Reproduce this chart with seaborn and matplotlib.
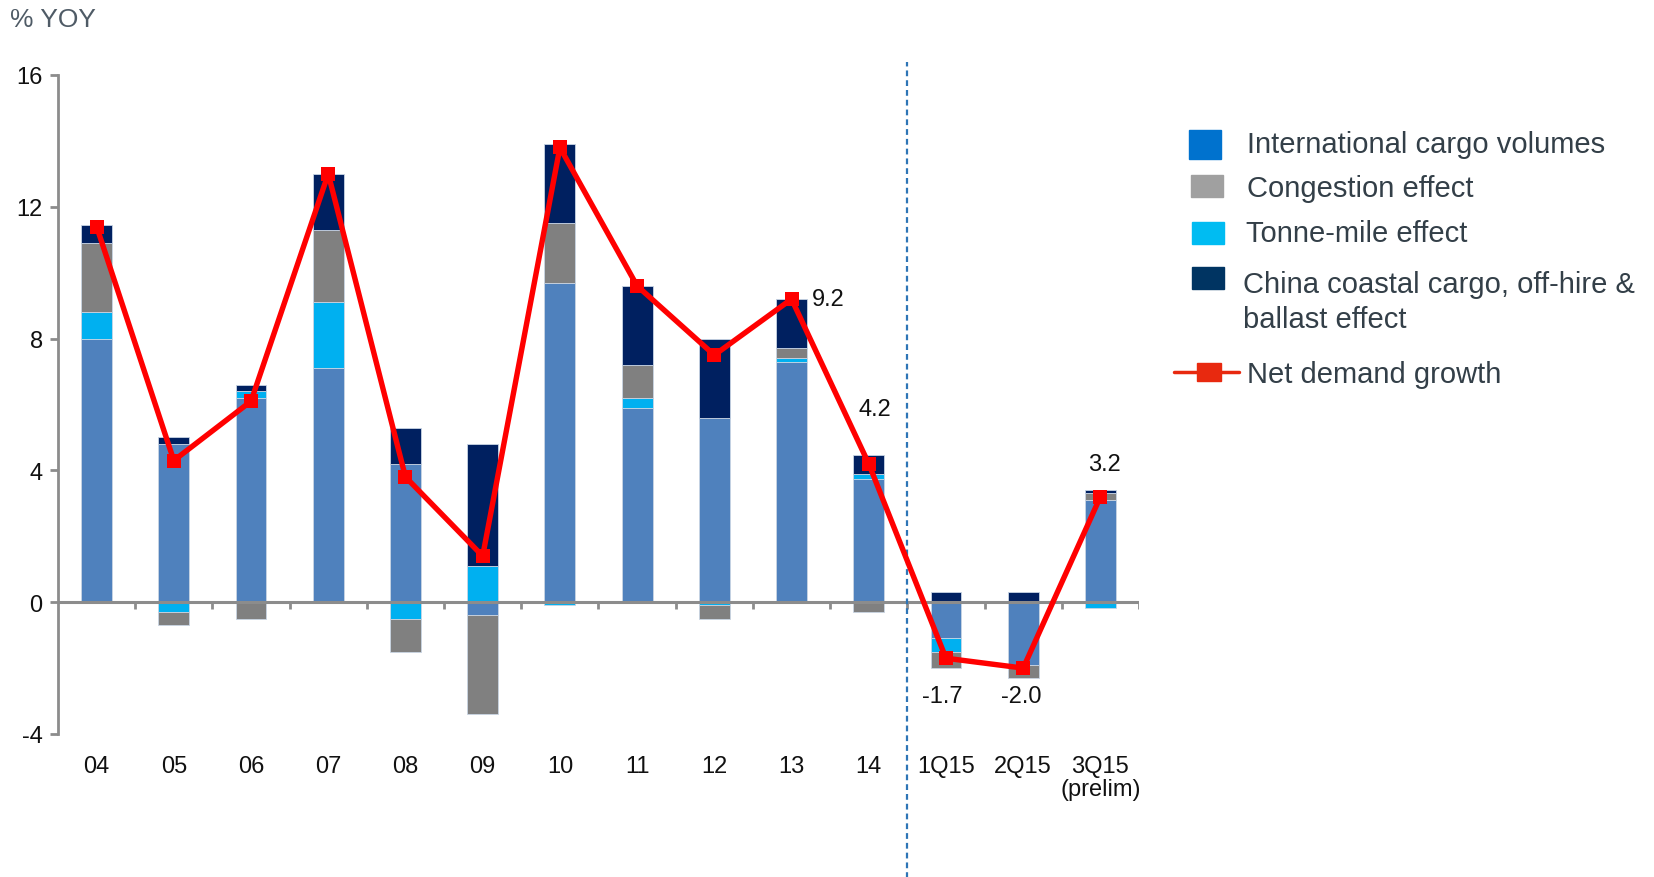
import numpy as np
import matplotlib
matplotlib.use("Agg")
import matplotlib.pyplot as plt
import seaborn as sns
from matplotlib.patches import Rectangle
from matplotlib.lines import Line2D

# ---- data (% year-on-year contribution to net demand growth) ----
periods = ["04", "05", "06", "07", "08", "09", "10", "11", "12", "13", "14",
           "1Q15", "2Q15", "3Q15\n(prelim)"]
intl_cargo = [8.0, 4.8, 6.2, 7.1, 4.2, -0.4, 9.7, 5.9, 5.6, 7.3, 3.75, -1.1, -1.9, 3.1]
tonne_mile = [0.8, -0.3, 0.2, 2.0, -0.5, 1.1, -0.1, 0.3, -0.08, 0.1, 0.13, -0.4, 0.05, -0.18]
congestion = [2.1, -0.4, -0.5, 2.2, -1.0, -3.0, 1.8, 1.0, -0.42, 0.3, -0.3, -0.5, -0.4, 0.2]
china_offhire = [0.55, 0.2, 0.2, 1.7, 1.1, 3.7, 2.4, 2.4, 2.4, 1.5, 0.6, 0.3, 0.25, 0.1]
net_growth = [11.4, 4.3, 6.1, 13.0, 3.8, 1.4, 13.8, 9.6, 7.5, 9.2, 4.2, -1.7, -2.0, 3.2]
y_ticks = [-4, 0, 4, 8, 12, 16]

legend_labels = ["International cargo volumes", "Congestion effect",
                 "Tonne-mile effect", "China coastal cargo, off-hire &\nballast effect",
                 "Net demand growth"]

# ---- styling ----
sns.set_theme(style="white")
plt.rcParams["font.family"] = ["Liberation Sans", "DejaVu Sans"]

bar_colors = {"intl": "#4F81BD", "tonne": "#00B0F0", "cong": "#808080", "china": "#002060"}
legend_colors = ["#0072CE", "#A0A0A0", "#00BCF2", "#003462"]
axis_grey = "#8C8C8C"
legend_text = "#333F48"

W, H = 1654, 878
fig = plt.figure(figsize=(W / 100, H / 100), dpi=100)
ax = fig.add_axes([58 / W, 1 - 735 / H, (1139 - 58) / W, (735 - 76) / H])

x = np.arange(len(periods))
bar_w = 0.40

# stack positive parts upward and negative parts downward from zero
stack = [(intl_cargo, bar_colors["intl"]),
         (tonne_mile, bar_colors["tonne"]),
         (congestion, bar_colors["cong"]),
         (china_offhire, bar_colors["china"])]
pos_base = np.zeros(len(x))
neg_base = np.zeros(len(x))
for vals, col in stack:
    v = np.asarray(vals, dtype=float)
    bottom = np.where(v >= 0, pos_base, neg_base)
    ax.bar(x, v, bottom=bottom, width=bar_w, color=col,
           edgecolor="#C9D5E4", linewidth=0.6, zorder=2)
    pos_base = pos_base + np.where(v >= 0, v, 0)
    neg_base = neg_base + np.where(v < 0, v, 0)

# zero line with small separators between categories
ax.axhline(0, color=axis_grey, lw=2.2, zorder=3)
ax.vlines(np.arange(0.5, len(x), 1.0), -0.22, 0, color=axis_grey, lw=2, zorder=3)

# net demand growth line
sns.lineplot(x=x, y=net_growth, ax=ax, color="#FF0000", lw=3.9, marker="s",
             markersize=9.5, markeredgewidth=0, markerfacecolor="#FF0000",
             sort=False, zorder=5, legend=False)

# divider between annual and quarterly data
ax.axvline(10.5, ymin=-0.22, ymax=1.02, color="#2E75B6", lw=1.6,
           linestyle=(0, (2.6, 1.8)), clip_on=False, zorder=4)

# value labels for the most recent periods
label_pos = {9: (0.26, 0.0, "left"),
             10: (0.08, 1.65, "center"),
             11: (-0.05, -1.15, "center"),
             12: (-0.03, -0.85, "center"),
             13: (0.05, 1.0, "center")}
for i, (dx, dy, ha) in label_pos.items():
    ax.text(x[i] + dx, net_growth[i] + dy, f"{net_growth[i]:.1f}",
            ha=ha, va="center", fontsize=17, color="#111111", zorder=6)

# axes
ax.set_xlim(-0.5, len(x) - 0.5)
ax.set_ylim(-4, 16)
ax.set_yticks(y_ticks)
ax.set_yticklabels([str(t) for t in y_ticks])
ax.set_xticks(x)
ax.set_xticklabels(periods, linespacing=1.05)
ax.tick_params(axis="x", length=0, pad=15, labelsize=17, colors="#111111")
ax.tick_params(axis="y", length=6, width=2, color=axis_grey, pad=5,
               labelsize=17, labelcolor="#111111", left=True)
for side in ["top", "right", "bottom"]:
    ax.spines[side].set_visible(False)
ax.spines["left"].set_color(axis_grey)
ax.spines["left"].set_linewidth(2)
ax.grid(False)

fig.text(10 / W, 1 - 27 / H, "% YOY", fontsize=19, color="#4F5B66", va="baseline")


# ---- legend, laid out in figure pixels ----
def fx(px):
    return px / W


def fy(py):
    return 1 - py / H


# swatch boxes: (left, top, right, bottom) in pixels
swatches = [(1189, 131, 1221, 160), (1191, 176, 1223, 198),
            (1192, 223, 1224, 245), (1192, 268, 1224, 290)]
for (l, t, r, b), col in zip(swatches, legend_colors):
    fig.patches.append(Rectangle((fx(l), fy(b)), fx(r) - fx(l), fy(t) - fy(b),
                                 transform=fig.transFigure, color=col, figure=fig))

# line swatch for the net series
fig.add_artist(Line2D([fx(1174), fx(1239)], [fy(373), fy(373)], color="#E8290F",
                      lw=2.5, transform=fig.transFigure))
fig.patches.append(Rectangle((fx(1197), fy(382)), fx(1221) - fx(1197), fy(364) - fy(382),
                             transform=fig.transFigure, color="#E8290F", figure=fig))

text_pos = [(1247, 153), (1247, 197), (1246, 242), (1243, 293), (1247, 383)]
for (tx, ty), lab in zip(text_pos, legend_labels):
    lines = lab.split("\n")
    for k, line in enumerate(lines):
        fig.text(fx(tx), fy(ty + 35 * k), line, fontsize=21, color=legend_text,
                 va="baseline", ha="left")

fig.savefig("out.png", dpi=100)
